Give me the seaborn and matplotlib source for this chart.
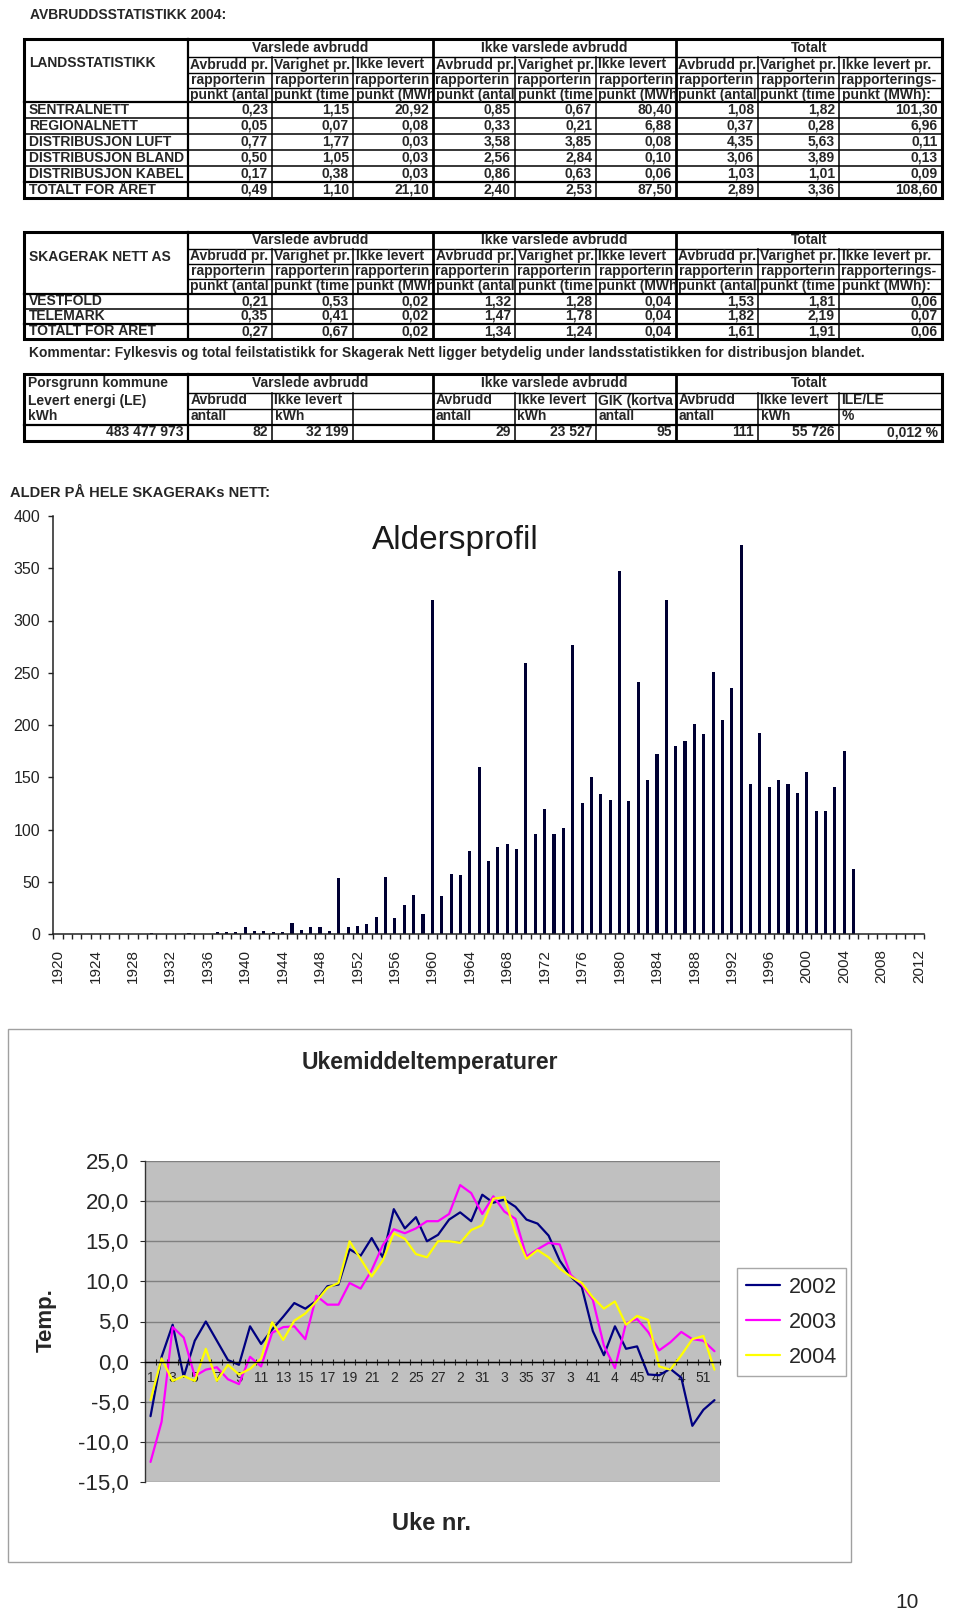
import numpy as np
import pandas as pd
import seaborn as sns
import matplotlib.pyplot as plt
from matplotlib.patches import Rectangle
from matplotlib.lines import Line2D
from matplotlib.transforms import Bbox, TransformedBbox

W, H = 960, 1614

# ---------------- table data ----------------
group_heads = ["Varslede avbrudd", "Ikke varslede avbrudd", "Totalt"]
sub_row1 = ["Avbrudd pr.", "Varighet pr.", "Ikke levert"] * 2 + ["Avbrudd pr.", "Varighet pr.", "Ikke levert pr."]
sub_row2 = ["rapporterin"] * 8 + ["rapporterings-"]
sub_row3 = ["punkt (antal", "punkt (time", "punkt (MWh"] * 2 + ["punkt (antal", "punkt (time", "punkt (MWh):"]

land_names = ["SENTRALNETT", "REGIONALNETT", "DISTRIBUSJON LUFT",
              "DISTRIBUSJON BLAND", "DISTRIBUSJON KABEL", "TOTALT FOR ÅRET"]
land_vals = [
    [0.23, 1.15, 20.92, 0.85, 0.67, 80.40, 1.08, 1.82, 101.30],
    [0.05, 0.07, 0.08, 0.33, 0.21, 6.88, 0.37, 0.28, 6.96],
    [0.77, 1.77, 0.03, 3.58, 3.85, 0.08, 4.35, 5.63, 0.11],
    [0.50, 1.05, 0.03, 2.56, 2.84, 0.10, 3.06, 3.89, 0.13],
    [0.17, 0.38, 0.03, 0.86, 0.63, 0.06, 1.03, 1.01, 0.09],
    [0.49, 1.10, 21.10, 2.40, 2.53, 87.50, 2.89, 3.36, 108.60],
]

skag_names = ["VESTFOLD", "TELEMARK", "TOTALT FOR ÅRET"]
skag_vals = [
    [0.21, 0.53, 0.02, 1.32, 1.28, 0.04, 1.53, 1.81, 0.06],
    [0.35, 0.41, 0.02, 1.47, 1.78, 0.04, 1.82, 2.19, 0.07],
    [0.27, 0.67, 0.02, 1.34, 1.24, 0.04, 1.61, 1.91, 0.06],
]
comment = ("Kommentar: Fylkesvis og total feilstatistikk for Skagerak Nett ligger "
           "betydelig under landsstatistikken for distribusjon blandet.")

pors_corner = ["Porsgrunn kommune", "Levert energi (LE)", "kWh"]
pors_le = "483 477 973"
pors_sub1 = ["Avbrudd", "Ikke levert", "", "Avbrudd", "Ikke levert", "GIK (kortva",
             "Avbrudd", "Ikke levert", "ILE/LE"]
pors_sub2 = ["antall", "kWh", "", "antall", "kWh", "antall", "antall", "kWh", "%"]
pors_vals = ["82", "32 199", "", "29", "23 527", "95", "111", "55 726", "0,012 %"]

# ---------------- age profile data ----------------
age_years = list(range(1920, 2013))
age_counts = ([0, 0, 0, 0, 0, 0, 0, 0, 0, 0] +
              [1, 0, 0, 0, 1, 0, 0, 2, 2, 2] +
              [7, 3, 3, 2, 2, 11, 4, 7, 7, 3] +
              [54, 7, 8, 10, 16, 55, 15, 28, 37, 19] +
              [320, 36, 57, 56, 79, 160, 70, 83, 86, 81] +
              [259, 96, 120, 96, 101, 277, 125, 150, 134, 128] +
              [347, 127, 241, 147, 172, 320, 180, 185, 201, 191] +
              [251, 205, 235, 372, 144, 192, 141, 147, 144, 135] +
              [155, 118, 118, 141, 175, 62, 0, 0, 0, 0] +
              [0, 0, 0])
age_ticks = list(range(0, 401, 50))

# ---------------- weekly temperatures ----------------
weeks = list(range(1, 53))
temp_2002 = [-6.8, 0.6, 4.6, -1.9, 2.6, 5.0, 2.6, 0.2, -0.4, 4.4,
             2.2, 4.0, 5.6, 7.3, 6.6, 7.6, 9.4, 9.6, 14.0, 13.2,
             15.4, 13.0, 19.0, 16.6, 18.0, 15.0, 15.8, 17.7, 18.6, 17.5,
             20.8, 19.8, 20.2, 19.3, 17.7, 17.2, 15.7, 12.6, 10.6, 9.3,
             3.8, 0.8, 4.4, 1.6, 1.9, -1.6, -1.7, -0.9, -2.0, -8.0,
             -6.0, -4.8]
temp_2003 = [-12.5, -7.5, 4.3, 3.0, -1.8, -1.0, -0.7, -2.2, -2.8, 0.6,
             -0.6, 3.6, 4.3, 4.4, 2.8, 8.2, 7.1, 7.1, 9.8, 9.1,
             11.4, 14.5, 16.5, 16.0, 16.6, 17.5, 17.5, 18.4, 22.0, 21.0,
             18.4, 20.6, 18.7, 17.8, 13.1, 14.0, 14.8, 14.6, 10.8, 9.6,
             7.7, 2.0, -0.8, 4.8, 5.3, 3.7, 1.4, 2.4, 3.7, 2.8,
             2.6, 1.3]
temp_2004 = [-4.8, 0.4, -2.4, -1.8, -2.4, 1.6, -2.4, -0.4, -1.6, -0.9,
             0.4, 4.9, 2.7, 5.1, 6.0, 7.5, 9.2, 9.8, 15.0, 12.8,
             10.6, 12.6, 16.0, 15.3, 13.4, 13.0, 15.0, 15.0, 14.8, 16.4,
             17.0, 20.3, 20.5, 16.0, 12.8, 13.9, 13.0, 11.6, 10.6, 9.8,
             8.0, 6.6, 7.5, 4.6, 5.7, 5.2, -0.6, -1.0, 0.8, 2.8,
             3.2, -1.0]
temp_years = ["2002", "2003", "2004"]
temp_colors = {"2002": "#000080", "2003": "#ff00ff", "2004": "#ffff00"}
temp_ticks = list(range(-15, 26, 5))
week_ticks = list(range(1, 52, 2))
week_labels = ["1", "3", "5", "7", "9", "11", "13", "15", "17", "19", "21", "2", "25",
               "27", "2", "31", "3", "35", "37", "3", "41", "4", "45", "47", "4", "51"]

sns.set_style("white")
plt.rcParams['font.family'] = ['Liberation Sans', 'DejaVu Sans']

fig = plt.figure(figsize=(W / 100, H / 100), dpi=100)
ax0 = fig.add_axes([0, 0, 1, 1])
ax0.set_xlim(0, W)
ax0.set_ylim(H, 0)
ax0.axis('off')

FS = 10
COLS = [24, 188, 272, 353, 433, 515, 596, 676, 758, 839, 942]


def px(x0, y0, x1, y1):
    return [x0 / W, 1 - y1 / H, (x1 - x0) / W, (y1 - y0) / H]


def hline(y, x0, x1, lw=1.0):
    ax0.plot([x0, x1], [y, y], color='black', lw=lw, solid_capstyle='projecting')


def vline(x, y0, y1, lw=1.0):
    ax0.plot([x, x], [y0, y1], color='black', lw=lw, solid_capstyle='projecting')


def cell(s, x0, x1, y0, y1, align='left', pad=2.5):
    if align == 'left':
        tx, ha = x0 + pad, 'left'
    elif align == 'right':
        tx, ha = x1 - 4, 'right'
    else:
        tx, ha = (x0 + x1) / 2, 'center'
    t = ax0.text(tx, (y0 + y1) / 2 - 0.5, s, ha=ha, va='center', fontsize=FS, fontweight='bold')
    t.set_clip_box(TransformedBbox(Bbox([[x0 + 1, y0], [x1 - 1, y1]]), ax0.transData))
    t.set_clip_on(True)


def fmt(v):
    return f"{v:.2f}".replace('.', ',')


def stat_table(corner, corner_y, head_y, body_y, names, values):
    left, right = COLS[0], COLS[-1]
    top, bottom = head_y[0], body_y[-1]
    for i, name in enumerate(group_heads):
        cell(name, COLS[1 + 3 * i], COLS[4 + 3 * i], head_y[0], head_y[1], 'center')
    for r, texts in enumerate([sub_row1, sub_row2, sub_row3]):
        for c, s in enumerate(texts):
            cell(s, COLS[1 + c], COLS[2 + c], head_y[1 + r], head_y[2 + r])
    ax0.text(left + 5, corner_y, corner, ha='left', va='center', fontsize=FS, fontweight='bold')
    for r, (name, row) in enumerate(zip(names, values)):
        y0, y1 = body_y[r], body_y[r + 1]
        cell(name, COLS[0], COLS[1], y0, y1, pad=5)
        for c, v in enumerate(row):
            cell(fmt(v), COLS[1 + c], COLS[2 + c], y0, y1, 'right')
    for y in head_y[1:4]:
        hline(y, COLS[1], right)
    for k, y in enumerate(body_y[:-1]):
        thick = k == 0 or k == len(body_y) - 2
        hline(y, left, right, 1.6 if thick else 1.1)
    for c in range(2, 10):
        if c in (4, 7):
            vline(COLS[c], top, bottom, 2.0)
        else:
            vline(COLS[c], head_y[1], bottom, 1.1)
    vline(COLS[1], top, bottom, 1.6)
    ax0.add_patch(Rectangle((left, top), right - left, bottom - top, fill=False, lw=2.2, ec='black'))


# ---------------- tables ----------------
ax0.text(30, 15, "AVBRUDDSSTATISTIKK 2004:", ha='left', va='center', fontsize=FS, fontweight='bold')
stat_table("LANDSSTATISTIKK", 63, [39, 57, 73, 88, 102],
           [102, 118, 134, 150, 166, 182, 198], land_names, land_vals)
stat_table("SKAGERAK NETT AS", 257, [232, 249, 264, 279, 294],
           [294, 309, 324, 339], skag_names, skag_vals)
ax0.text(29, 353, comment, ha='left', va='center', fontsize=FS, fontweight='bold')

# Porsgrunn table
p_head = [374, 393, 409, 425, 441]
left, right = COLS[0], COLS[-1]
for i, name in enumerate(group_heads):
    cell(name, COLS[1 + 3 * i], COLS[4 + 3 * i], p_head[0], p_head[1], 'center')
for r, line in enumerate(pors_corner):
    cell(line, COLS[0], COLS[1], p_head[r], p_head[r + 1], pad=4)
cell(pors_le, COLS[0], COLS[1], p_head[3], p_head[4], 'right')
for c in range(9):
    cell(pors_sub1[c], COLS[1 + c], COLS[2 + c], p_head[1], p_head[2])
    cell(pors_sub2[c], COLS[1 + c], COLS[2 + c], p_head[2], p_head[3])
    cell(pors_vals[c], COLS[1 + c], COLS[2 + c], p_head[3], p_head[4], 'right')
hline(p_head[1], COLS[1], right)
hline(p_head[2], COLS[1], right)
hline(p_head[3], left, right, 1.6)
for c in range(2, 10):
    if c in (4, 7):
        vline(COLS[c], p_head[0], p_head[4], 2.0)
    else:
        vline(COLS[c], p_head[1], p_head[4], 1.1)
vline(COLS[1], p_head[0], p_head[4], 1.6)
ax0.add_patch(Rectangle((left, p_head[0]), right - left, p_head[4] - p_head[0],
                        fill=False, lw=2.2, ec='black'))

# ---------------- age profile bar chart ----------------
ax0.text(10, 493, "ALDER PÅ HELE SKAGERAKs NETT:", ha='left', va='center', fontsize=10.5, fontweight='bold')
ax0.text(455, 541, "Aldersprofil", ha='center', va='center', fontsize=24, color='#1a1a1a')

axb = fig.add_axes(px(53.3, 516, 923.7, 934))
df_age = pd.DataFrame({"year": age_years, "count": age_counts})
sns.barplot(data=df_age, x="year", y="count", color="#000033", saturation=1,
            width=0.33, errorbar=None, linewidth=0, ax=axb)
axb.set_xlim(-0.5, len(age_years) - 0.5)
axb.set_ylim(0, 400)
axb.set_xlabel("")
axb.set_ylabel("")
axb.set_facecolor('none')
axb.set_yticks(age_ticks)
axb.set_yticklabels([str(t) for t in age_ticks], fontsize=11.5, color='#222222')
axb.set_xticks(range(0, len(age_years), 4))
axb.set_xticklabels([str(y) for y in age_years[::4]], rotation=90, fontsize=11, color='#222222')
axb.set_xticks(np.arange(-0.5, len(age_years), 1), minor=True)
axb.tick_params(axis='x', which='major', length=0, pad=11)
axb.tick_params(axis='x', which='minor', length=3.6, width=1, color='#222222', direction='out', bottom=True)
axb.tick_params(axis='y', which='major', length=3.6, width=1, color='#222222', direction='out', left=True, pad=6)
for side in ('top', 'right'):
    axb.spines[side].set_visible(False)
for side in ('left', 'bottom'):
    axb.spines[side].set_color('#222222')
    axb.spines[side].set_linewidth(1.1)
axb.grid(False)

# ---------------- weekly temperature line chart ----------------
ax0.add_patch(Rectangle((8, 1029), 843, 533, fill=False, lw=1.0, ec='#a0a0a0'))
ax0.text(430, 1062, "Ukemiddeltemperaturer", ha='center', va='center', fontsize=16.5, fontweight='bold')
ax0.text(46, 1320, "Temp.", ha='center', va='center', rotation=90, fontsize=16, fontweight='bold')
ax0.text(432, 1523, "Uke nr.", ha='center', va='center', fontsize=17, fontweight='bold')
ax0.text(907, 1603, "10", ha='center', va='center', fontsize=15)

axl = fig.add_axes(px(145, 1161, 720, 1482))
axl.set_facecolor('#c0c0c0')
df_temp = pd.DataFrame({
    "week": weeks * 3,
    "temp": temp_2002 + temp_2003 + temp_2004,
    "year": [y for y in temp_years for _ in weeks],
})
sns.lineplot(data=df_temp, x="week", y="temp", hue="year", hue_order=temp_years,
             palette=temp_colors, linewidth=1.6, errorbar=None, legend=False, ax=axl)
axl.set_xlim(0.5, 52.5)
axl.set_ylim(-15, 25)
axl.set_xlabel("")
axl.set_ylabel("")
axl.set_yticks(temp_ticks)
axl.set_yticklabels([f"{t:.1f}".replace('.', ',') for t in temp_ticks], fontsize=16)
axl.set_xticks(week_ticks)
axl.set_xticklabels(week_labels, fontsize=9)
axl.set_xticks(np.arange(0.5, 53, 1), minor=True)
axl.tick_params(axis='x', which='major', length=0, pad=7)
axl.tick_params(axis='x', which='minor', length=4, width=0.8, direction='inout', bottom=True)
axl.tick_params(axis='y', which='major', length=3.6, width=0.8, direction='out', left=True, pad=8)
axl.yaxis.grid(True, color='#808080', lw=1)
axl.xaxis.grid(False)
axl.set_axisbelow(True)
axl.spines['bottom'].set_position(('data', 0))
axl.spines['bottom'].set_color('black')
axl.spines['bottom'].set_linewidth(1)
axl.spines['left'].set_color('#333333')
axl.spines['left'].set_linewidth(1)
for side in ('top', 'right'):
    axl.spines[side].set_visible(False)

handles = [Line2D([], [], color=temp_colors[y], lw=1.6) for y in temp_years]
leg = axl.legend(handles, temp_years, loc='upper left', bbox_to_anchor=(737 / W, 1 - 1268 / H),
                 bbox_transform=fig.transFigure, fontsize=15.5, frameon=True, fancybox=False,
                 edgecolor='#a8a8a8', framealpha=1, borderaxespad=0, borderpad=0.4,
                 handlelength=1.6, handletextpad=0.4, labelspacing=0.65)
leg.get_frame().set_linewidth(1.0)

fig.savefig("out.png", dpi=100, facecolor='white')
